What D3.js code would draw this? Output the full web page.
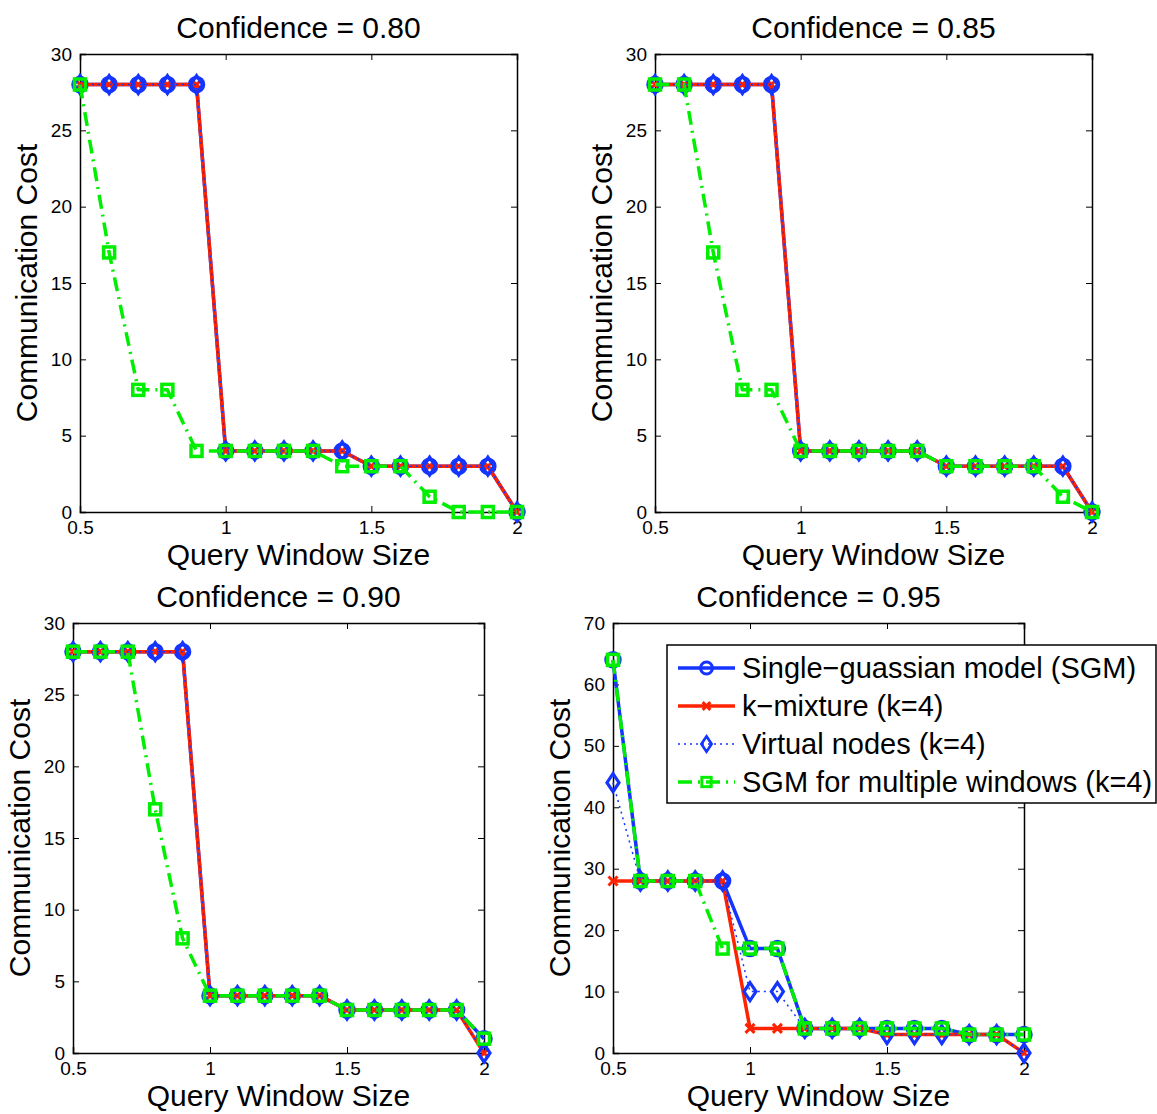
<!DOCTYPE html>
<html>
<head>
<meta charset="utf-8">
<script src="https://cdn.jsdelivr.net/npm/d3@7"></script>
<style>
  html, body { margin: 0; padding: 0; background: #fff; }
  svg { display: block; font-family: "Liberation Sans", Arial, Helvetica, sans-serif; }
</style>
</head>
<body>
<svg id="chart" width="1157" height="1114"></svg>
<script>
// ---------------- DATA ----------------
const windowSizes = [0.5, 0.6, 0.7, 0.8, 0.9, 1.0, 1.1, 1.2, 1.3, 1.4, 1.5, 1.6, 1.7, 1.8, 1.9, 2.0];
const xTickValues = [0.5, 1, 1.5, 2];
const xTickLabels = ["0.5", "1", "1.5", "2"];
const yTicksLow = [0, 5, 10, 15, 20, 25, 30];
const yTicksHigh = [0, 10, 20, 30, 40, 50, 60, 70];

const seriesNames = ["Single\u2212guassian model (SGM)", "k\u2212mixture (k=4)", "Virtual nodes (k=4)", "SGM for multiple windows (k=4)"];
const panelTitles = ["Confidence = 0.80", "Confidence = 0.85", "Confidence = 0.90", "Confidence = 0.95"];

// Confidence = 0.80
const sgm80     = [28, 28, 28, 28, 28, 4, 4, 4, 4, 4, 3, 3, 3, 3, 3, 0];
const kmix80    = [28, 28, 28, 28, 28, 4, 4, 4, 4, 4, 3, 3, 3, 3, 3, 0];
const virtual80 = [28, 28, 28, 28, 28, 4, 4, 4, 4, 4, 3, 3, 3, 3, 3, 0];
const multi80   = [28, 17, 8, 8, 4, 4, 4, 4, 4, 3, 3, 3, 1, 0, 0, 0];
// Confidence = 0.85
const sgm85     = [28, 28, 28, 28, 28, 4, 4, 4, 4, 4, 3, 3, 3, 3, 3, 0];
const kmix85    = [28, 28, 28, 28, 28, 4, 4, 4, 4, 4, 3, 3, 3, 3, 3, 0];
const virtual85 = [28, 28, 28, 28, 28, 4, 4, 4, 4, 4, 3, 3, 3, 3, 3, 0];
const multi85   = [28, 28, 17, 8, 8, 4, 4, 4, 4, 4, 3, 3, 3, 3, 1, 0];
// Confidence = 0.90
const sgm90     = [28, 28, 28, 28, 28, 4, 4, 4, 4, 4, 3, 3, 3, 3, 3, 1];
const kmix90    = [28, 28, 28, 28, 28, 4, 4, 4, 4, 4, 3, 3, 3, 3, 3, 0];
const virtual90 = [28, 28, 28, 28, 28, 4, 4, 4, 4, 4, 3, 3, 3, 3, 3, 0];
const multi90   = [28, 28, 28, 17, 8, 4, 4, 4, 4, 4, 3, 3, 3, 3, 3, 1];
// Confidence = 0.95
const sgm95     = [64, 28, 28, 28, 28, 17, 17, 4, 4, 4, 4, 4, 4, 3, 3, 3];
const kmix95    = [28, 28, 28, 28, 28, 4, 4, 4, 4, 4, 3, 3, 3, 3, 3, 0];
const virtual95 = [44, 28, 28, 28, 28, 10, 10, 4, 4, 4, 3, 3, 3, 3, 3, 0];
const multi95   = [64, 28, 28, 28, 17, 17, 17, 4, 4, 4, 4, 4, 4, 3, 3, 3];

// ---------------- STYLES ----------------
const BLUE = "#1434ff", RED = "#ff2200", GREEN = "#00ee00";
const styles = [
  { color: BLUE,  width: 3.5, dash: null,        marker: "circle" },
  { color: RED,   width: 3.5, dash: null,        marker: "x" },
  { color: BLUE,  width: 1.5, dash: "2,4",       marker: "diamond" },
  { color: GREEN, width: 3.5, dash: "14,6,2,6",  marker: "square" }
];

const panels = [
  { title: panelTitles[0], series: [sgm80, kmix80, virtual80, multi80], yMax: 30, yTicks: yTicksLow,  box: { l: 80,  r: 517,  t: 54,  b: 512 } },
  { title: panelTitles[1], series: [sgm85, kmix85, virtual85, multi85], yMax: 30, yTicks: yTicksLow,  box: { l: 655, r: 1092, t: 54,  b: 512 } },
  { title: panelTitles[2], series: [sgm90, kmix90, virtual90, multi90], yMax: 30, yTicks: yTicksLow,  box: { l: 73,  r: 484,  t: 623, b: 1053 } },
  { title: panelTitles[3], series: [sgm95, kmix95, virtual95, multi95], yMax: 70, yTicks: yTicksHigh, box: { l: 613, r: 1024, t: 623, b: 1053 } }
];

const svg = d3.select("#chart");

function drawMarker(g, type, cx, cy, color, k = 1) {
  if (type === "circle") {
    g.append("circle").attr("cx", cx).attr("cy", cy).attr("r", 7 * k)
      .attr("fill", "none").attr("stroke", color).attr("stroke-width", 3.5 * k);
  } else if (type === "x") {
    const s = 4.5 * k;
    g.append("path").attr("d", `M${cx - s},${cy - s}L${cx + s},${cy + s}M${cx - s},${cy + s}L${cx + s},${cy - s}`)
      .attr("stroke", color).attr("stroke-width", 3).attr("fill", "none");
  } else if (type === "diamond") {
    const w = 6 * k, h = 9 * k;
    g.append("path").attr("d", `M${cx},${cy - h}L${cx + w},${cy}L${cx},${cy + h}L${cx - w},${cy}Z`)
      .attr("fill", "none").attr("stroke", color).attr("stroke-width", 3.2 * k);
  } else if (type === "square") {
    const s = 5.5 * k;
    g.append("rect").attr("x", cx - s).attr("y", cy - s).attr("width", 2 * s).attr("height", 2 * s)
      .attr("fill", "none").attr("stroke", color).attr("stroke-width", 3.5 * k);
  }
}

panels.forEach(p => {
  const { l, r, t, b } = p.box;
  const x = d3.scaleLinear().domain([0.5, 2]).range([l, r]);
  const y = d3.scaleLinear().domain([0, p.yMax]).range([b, t]);
  const g = svg.append("g");

  // axes box with inward ticks
  const tickLen = 6;
  const axBottom = d3.axisBottom(x).tickValues(xTickValues).tickSize(-tickLen).tickPadding(9)
    .tickFormat((d, i) => xTickLabels[i]);
  const axTop = d3.axisTop(x).tickValues(xTickValues).tickSize(-tickLen).tickFormat("");
  const axLeft = d3.axisLeft(y).tickValues(p.yTicks).tickSize(-tickLen).tickPadding(8).tickFormat(d3.format("d"));
  const axRight = d3.axisRight(y).tickValues(p.yTicks).tickSize(-tickLen).tickFormat("");

  [[axBottom, `translate(0,${b})`], [axTop, `translate(0,${t})`], [axLeft, `translate(${l},0)`], [axRight, `translate(${r},0)`]]
    .forEach(([ax, tr]) => {
      const a = g.append("g").attr("transform", tr).call(ax);
      a.select(".domain").attr("stroke", "#000").attr("stroke-width", 1.5);
      a.selectAll(".tick line").attr("stroke", "#000").attr("stroke-width", 1);
      a.selectAll(".tick text").attr("font-size", 19).attr("fill", "#000")
        .attr("font-family", "Liberation Sans, Arial, sans-serif");
    });

  // series
  const line = d3.line().x((d, i) => x(windowSizes[i])).y(d => y(d));
  p.series.forEach((vals, si) => {
    const st = styles[si];
    const sg = g.append("g");
    sg.append("path").datum(vals).attr("d", line)
      .attr("fill", "none").attr("stroke", st.color).attr("stroke-width", st.width)
      .attr("stroke-dasharray", st.dash).attr("stroke-linejoin", "round");
    vals.forEach((v, i) => drawMarker(sg, st.marker, x(windowSizes[i]), y(v), st.color));
  });

  // title
  g.append("text").attr("x", (l + r) / 2).attr("y", t - 16).attr("text-anchor", "middle")
    .attr("font-size", 30).text(p.title);
  // x label
  g.append("text").attr("x", (l + r) / 2).attr("y", b + 53).attr("text-anchor", "middle")
    .attr("font-size", 30).text("Query Window Size");
  // y label
  g.append("text").attr("transform", `translate(${l - 43},${(t + b) / 2}) rotate(-90)`)
    .attr("text-anchor", "middle").attr("font-size", 30).text("Communication Cost");
});

// legend (on the 0.95 panel)
const lg = svg.append("g");
lg.append("rect").attr("x", 667).attr("y", 645).attr("width", 489).attr("height", 158)
  .attr("fill", "#fff").attr("stroke", "#000").attr("stroke-width", 1.5);
seriesNames.forEach((name, i) => {
  const st = styles[i];
  const cy = 668 + i * 38;
  lg.append("line").attr("x1", 678).attr("x2", 735).attr("y1", cy).attr("y2", cy)
    .attr("stroke", st.color).attr("stroke-width", st.width).attr("stroke-dasharray", st.dash);
  drawMarker(lg, st.marker, 706.5, cy, st.color, 0.85);
  lg.append("text").attr("x", 742).attr("y", cy + 10).attr("font-size", 29).text(name);
});
</script>
</body>
</html>
